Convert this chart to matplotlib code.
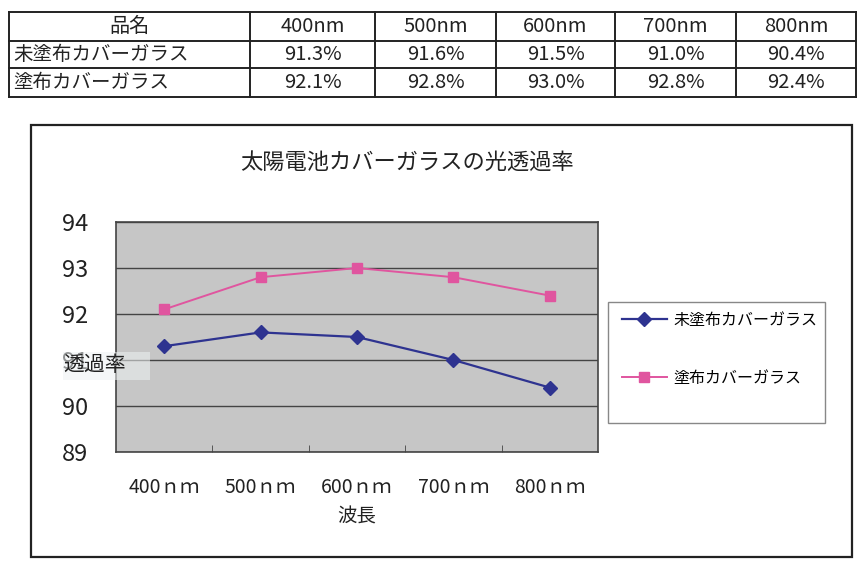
import numpy as np
import matplotlib.pyplot as plt
from matplotlib.patches import Rectangle

plt.rcParams['font.family'] = ['Noto Sans CJK JP', 'DejaVu Sans']

# ---------------------------------
# Datos
# ---------------------------------

table_header = ["品名", "400nm", "500nm", "600nm", "700nm", "800nm"]
products = ["未塗布カバーガラス", "塗布カバーガラス"]
uncoated = [91.3, 91.6, 91.5, 91.0, 90.4]
coated = [92.1, 92.8, 93.0, 92.8, 92.4]
wavelengths = ["400ｎｍ", "500ｎｍ", "600ｎｍ", "700ｎｍ", "800ｎｍ"]
y_ticks = [89, 90, 91, 92, 93, 94]

W, H = 867, 569
fig = plt.figure(figsize=(W / 100, H / 100), dpi=100)


def fx(x):
    return x / W


def fy(y):
    return 1 - y / H


# ---------------------------------
# Capa de fondo (tabla y marco)
# ---------------------------------

bg = fig.add_axes([0, 0, 1, 1], zorder=0)
bg.set_xlim(0, W)
bg.set_ylim(H, 0)
bg.axis("off")

col_x = [9, 250, 375, 496, 615, 736, 856]
row_y = [12, 41, 68, 97]

for y in row_y:
    bg.plot([col_x[0], col_x[-1]], [y, y], color="#222222", lw=1.4)
for x in col_x:
    bg.plot([x, x], [row_y[0], row_y[-1]], color="#222222", lw=1.4)

rows = [table_header,
        [products[0]] + [f"{v:.1f}%" for v in uncoated],
        [products[1]] + [f"{v:.1f}%" for v in coated]]

for r, row in enumerate(rows):
    yc = (row_y[r] + row_y[r + 1]) / 2
    for c, txt in enumerate(row):
        if c == 0 and r > 0:
            bg.text(col_x[0] + 4, yc, txt, ha="left", va="center",
                    fontsize=14, color="#222222")
        else:
            xc = (col_x[c] + col_x[c + 1]) / 2
            bg.text(xc, yc, txt, ha="center", va="center",
                    fontsize=14.5, color="#222222")

# marco del gráfico
bg.add_patch(Rectangle((31, 125), 852 - 31, 557 - 125, fill=False,
                       edgecolor="#222222", lw=1.6))

# marco de la leyenda
bg.add_patch(Rectangle((608, 302), 825 - 608, 423 - 302, facecolor="white",
                       edgecolor="#888888", lw=1.0))

fig.text(fx(407), fy(162), "太陽電池カバーガラスの光透過率",
         ha="center", va="center", fontsize=16, color="#222222")

# ---------------------------------
# Gráfico
# ---------------------------------

x0, x1, y0, y1 = 116, 598, 222, 452
ax = fig.add_axes([fx(x0), fy(y1), fx(x1 - x0), (y1 - y0) / H], zorder=2)
ax.set_facecolor("#c6c6c6")

xs = np.arange(len(wavelengths)) + 0.5

ax.plot(xs, uncoated, color="#2e3390", lw=1.6, marker="D", ms=7,
        markerfacecolor="#2e3390", markeredgecolor="#2e3390",
        label=products[0], zorder=3)
ax.plot(xs, coated, color="#e0559f", lw=1.4, marker="s", ms=7,
        markerfacecolor="#e0559f", markeredgecolor="#e0559f",
        label=products[1], zorder=3)

ax.set_xlim(0, len(wavelengths))
ax.set_ylim(89, 94)
ax.set_yticks(y_ticks)
ax.set_yticklabels([str(v) for v in y_ticks], fontsize=17, color="#222222")
ax.set_xticks(xs)
ax.set_xticklabels(wavelengths, fontsize=14, color="#222222")
ax.set_xticks(np.arange(1, len(wavelengths)), minor=True)
ax.tick_params(axis="y", length=0, pad=20)
ax.tick_params(axis="x", which="major", length=0, pad=18)
ax.tick_params(axis="x", which="minor", direction="in", length=5,
               color="#444444")

ax.grid(axis="y", color="#444444", lw=1.0)
ax.set_axisbelow(True)
for sp in ax.spines.values():
    sp.set_color("#444444")
    sp.set_linewidth(1.2)

ax.set_xlabel("波長", fontsize=14, color="#222222", labelpad=6)

# etiqueta del eje Y (horizontal, sobre la marca 91)
fig.patches.append(Rectangle((fx(63), fy(380)), fx(150 - 63), (380 - 352) / H,
                             transform=fig.transFigure, facecolor="#eef2f3",
                             edgecolor="none", alpha=0.55, zorder=5))
fig.text(fx(63), fy(365), "透過率", ha="left", va="center",
         fontsize=15, color="#222222", zorder=6)

leg = ax.legend(loc="upper left", bbox_to_anchor=(fx(622), fy(312)),
                bbox_transform=fig.transFigure, fontsize=11.5,
                frameon=False, borderpad=0, labelspacing=2.55,
                handlelength=2.8, handletextpad=0.4, borderaxespad=0)

fig.savefig("out.png", dpi=100)
